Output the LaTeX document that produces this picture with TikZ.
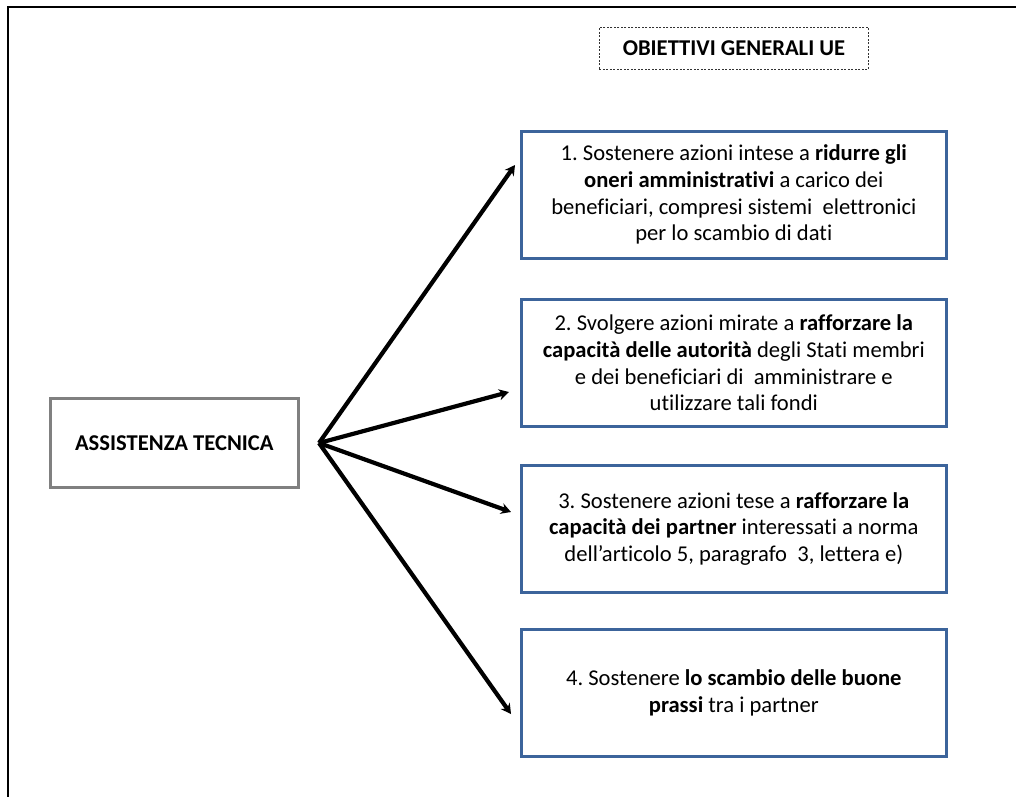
\documentclass[tikz,border=0pt]{standalone}
\usepackage{fontspec}
\setmainfont[Ligatures={NoCommon}]{Carlito}
\usetikzlibrary{arrows.meta}
\definecolor{boxblue}{RGB}{60,100,155}
\definecolor{boxgray}{RGB}{128,128,128}
\tikzset{
  goal/.style={draw=boxblue, line width=2.6pt, minimum width=425pt, minimum height=127pt, anchor=north west, align=center, font=\fontsize{22.6}{26.7}\selectfont\frenchspacing, inner sep=0pt},
  mainbox/.style={draw=boxgray, line width=2.6pt, minimum width=248pt, minimum height=89pt, anchor=north west, align=center, font=\fontsize{22.6}{26}\selectfont\bfseries, inner sep=0pt},
  titlebox/.style={draw=black!80, dashed, dash pattern=on 2pt off 1.5pt, line width=0.9pt, minimum width=269pt, minimum height=42pt, anchor=north west, align=center, font=\fontsize{22.6}{26}\selectfont\bfseries, inner sep=0pt},
  arr/.style={line width=4.2pt, line join=round, -{Stealth[length=10pt,width=11pt]}},
  frame/.style={line width=2.8pt}
}
\begin{document}
\begin{tikzpicture}[x=1pt,y=-1pt]
\useasboundingbox (0,0) rectangle (1016,796);
\draw[frame] (8,820) -- (8,7) -- (1030,7);
\node[titlebox] (t) at (599,27) {OBIETTIVI GENERALI UE};
\node[mainbox] (L) at (49,397) {ASSISTENZA TECNICA};
\node[goal] (b1) at (520,130) {1. Sostenere azioni intese a \textbf{ridurre gli}\\\textbf{oneri amministrativi} a carico dei\\beneficiari, compresi sistemi\ \ elettronici\\per lo scambio di dati};
\node[goal] (b2) at (520,298) {2. Svolgere azioni mirate a \textbf{rafforzare la}\\\textbf{capacità delle autorità} degli Stati membri\\e dei beneficiari di\ \ amministrare e\\utilizzare tali fondi};
\node[goal] (b3) at (520,464) {3. Sostenere azioni tese a \textbf{rafforzare la}\\\textbf{capacità dei partner} interessati a norma\\dell'articolo 5, paragrafo\ \ 3, lettera e)};
\node[goal] (b4) at (520,628) {4. Sostenere \textbf{lo scambio delle buone}\\\textbf{prassi} tra i partner};
\coordinate (o) at (319,443);
\coordinate (e1) at (515,165);
\coordinate (e2) at (509,392);
\coordinate (e3) at (511,512);
\coordinate (e4) at (511,714);
\draw[arr] (o) -- (e1);
\draw[arr] (o) -- (e2);
\draw[arr] (o) -- (e3);
\draw[arr] (o) -- (e4);
\end{tikzpicture}
\end{document}
